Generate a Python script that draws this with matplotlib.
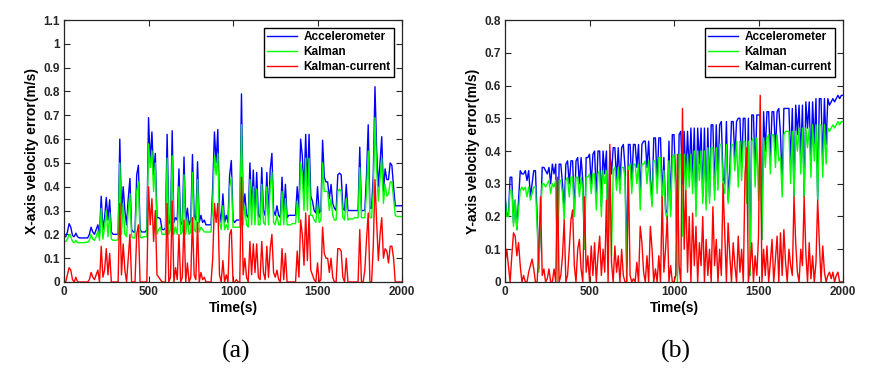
import numpy as np
import matplotlib
matplotlib.use("Agg")
import matplotlib.pyplot as plt
from matplotlib.ticker import FormatStrFormatter

plt.rcParams['font.family'] = ['Liberation Sans', 'DejaVu Sans']

# samples every 10 s, 0..2000 s
# (a) X-axis velocity error
acc_a = [0.19, 0.19, 0.21, 0.245, 0.23, 0.195, 0.19, 0.205, 0.19, 0.185,
         0.185, 0.185, 0.185, 0.185, 0.185, 0.2, 0.23, 0.21, 0.2, 0.22,
         0.24, 0.2, 0.36, 0.22, 0.27, 0.355, 0.26, 0.345, 0.21, 0.2,
         0.2, 0.2, 0.2, 0.6, 0.28, 0.4, 0.3, 0.24, 0.35, 0.435,
         0.22, 0.21, 0.21, 0.45, 0.49, 0.22, 0.21, 0.21, 0.21, 0.22,
         0.69, 0.5, 0.63, 0.45, 0.54, 0.27, 0.27, 0.265, 0.22, 0.22,
         0.225, 0.62, 0.26, 0.24, 0.635, 0.25, 0.27, 0.26, 0.475, 0.24,
         0.25, 0.525, 0.25, 0.31, 0.24, 0.26, 0.535, 0.28, 0.26, 0.505,
         0.25, 0.28, 0.25, 0.26, 0.24, 0.24, 0.24, 0.24, 0.4, 0.63,
         0.5, 0.64, 0.3, 0.25, 0.37, 0.25, 0.28, 0.25, 0.45, 0.51,
         0.26, 0.25, 0.26, 0.26, 0.26, 0.79, 0.3, 0.37, 0.28, 0.27,
         0.5, 0.3, 0.47, 0.28, 0.46, 0.28, 0.27, 0.48, 0.3, 0.28,
         0.46, 0.28, 0.47, 0.54, 0.3, 0.28, 0.32, 0.28, 0.27, 0.44,
         0.28, 0.41, 0.27, 0.28, 0.28, 0.28, 0.28, 0.28, 0.4, 0.3,
         0.6, 0.53, 0.38, 0.62, 0.4, 0.62, 0.36, 0.34, 0.3, 0.29,
         0.4, 0.29, 0.3, 0.595, 0.44, 0.42, 0.42, 0.35, 0.41, 0.33,
         0.31, 0.3, 0.45, 0.457, 0.45, 0.31, 0.3, 0.41, 0.3, 0.3,
         0.3, 0.3, 0.3, 0.3, 0.3, 0.566, 0.3, 0.3, 0.3, 0.45,
         0.66, 0.31, 0.31, 0.45, 0.82, 0.55, 0.4, 0.5, 0.61, 0.38,
         0.475, 0.43, 0.43, 0.5, 0.49, 0.4, 0.32, 0.32, 0.32, 0.32,
         0.32]
kal_a = [0.17, 0.17, 0.18, 0.2, 0.19, 0.17, 0.165, 0.175, 0.165, 0.165,
         0.165, 0.165, 0.165, 0.167, 0.167, 0.175, 0.2, 0.18, 0.175, 0.19,
         0.215, 0.175, 0.31, 0.18, 0.23, 0.3, 0.19, 0.29, 0.18, 0.175,
         0.175, 0.175, 0.178, 0.5, 0.2, 0.33, 0.2, 0.19, 0.3, 0.37,
         0.19, 0.185, 0.185, 0.38, 0.42, 0.19, 0.185, 0.19, 0.19, 0.19,
         0.58, 0.48, 0.55, 0.38, 0.5, 0.2, 0.22, 0.23, 0.2, 0.2,
         0.2, 0.52, 0.2, 0.22, 0.53, 0.2, 0.23, 0.2, 0.4, 0.2,
         0.21, 0.45, 0.2, 0.27, 0.2, 0.21, 0.46, 0.22, 0.21, 0.43,
         0.21, 0.23, 0.22, 0.21, 0.21, 0.21, 0.21, 0.21, 0.34, 0.53,
         0.45, 0.54, 0.25, 0.22, 0.32, 0.22, 0.24, 0.22, 0.4, 0.44,
         0.23, 0.23, 0.23, 0.23, 0.23, 0.66, 0.24, 0.32, 0.24, 0.23,
         0.43, 0.24, 0.4, 0.24, 0.39, 0.24, 0.24, 0.41, 0.25, 0.24,
         0.4, 0.24, 0.4, 0.46, 0.25, 0.24, 0.28, 0.24, 0.24, 0.38,
         0.24, 0.35, 0.24, 0.24, 0.24, 0.245, 0.245, 0.245, 0.34, 0.25,
         0.5, 0.45, 0.3, 0.52, 0.3, 0.52, 0.28, 0.28, 0.26, 0.25,
         0.33, 0.25, 0.26, 0.5, 0.38, 0.38, 0.38, 0.3, 0.35, 0.28,
         0.26, 0.26, 0.38, 0.39, 0.38, 0.27, 0.26, 0.35, 0.26, 0.265,
         0.265, 0.265, 0.27, 0.27, 0.27, 0.48, 0.27, 0.27, 0.27, 0.38,
         0.55, 0.27, 0.27, 0.38, 0.69, 0.47, 0.34, 0.43, 0.52, 0.33,
         0.41, 0.36, 0.37, 0.42, 0.42, 0.35, 0.28, 0.275, 0.275, 0.275,
         0.275]
cur_a = [0.0, 0.0, 0.03, 0.06, 0.05, 0.01, 0.0, 0.02, 0.0, 0.0,
         0.0, 0.0, 0.0, 0.0, 0.0, 0.01, 0.04, 0.02, 0.01, 0.03,
         0.05, 0.0, 0.15, 0.02, 0.05, 0.14, 0.03, 0.12, 0.0, 0.0,
         0.0, 0.0, 0.0, 0.33, 0.03, 0.16, 0.05, 0.0, 0.1, 0.2,
         0.0, 0.0, 0.0, 0.2, 0.24, 0.0, 0.0, 0.0, 0.0, 0.0,
         0.4, 0.24, 0.35, 0.17, 0.3, 0.03, 0.02, 0.01, 0.0, 0.0,
         0.0, 0.33, 0.0, 0.02, 0.34, 0.0, 0.06, 0.01, 0.2, 0.0,
         0.02, 0.26, 0.0, 0.08, 0.0, 0.02, 0.27, 0.03, 0.01, 0.25,
         0.0, 0.04, 0.01, 0.02, 0.0, 0.0, 0.0, 0.0, 0.1, 0.33,
         0.25, 0.33, 0.03, 0.0, 0.09, 0.0, 0.03, 0.0, 0.2, 0.22,
         0.0, 0.0, 0.01, 0.0, 0.0, 0.44, 0.03, 0.1, 0.02, 0.0,
         0.17, 0.03, 0.16, 0.04, 0.16, 0.02, 0.01, 0.17, 0.04, 0.01,
         0.15, 0.02, 0.14, 0.2, 0.04, 0.02, 0.05, 0.01, 0.0, 0.14,
         0.01, 0.12, 0.0, 0.0, 0.0, 0.0, 0.0, 0.0, 0.13, 0.02,
         0.26, 0.2, 0.07, 0.29, 0.09, 0.28, 0.05, 0.03, 0.01, 0.0,
         0.08, 0.0, 0.01, 0.23, 0.12, 0.1, 0.1, 0.04, 0.1, 0.02,
         0.0, 0.0, 0.14, 0.14, 0.13, 0.02, 0.0, 0.1, 0.0, 0.0,
         0.0, 0.0, 0.0, 0.0, 0.0, 0.22, 0.0, 0.0, 0.05, 0.18,
         0.29, 0.0, 0.0, 0.15, 0.43, 0.25, 0.09, 0.2, 0.27, 0.1,
         0.14, 0.13, 0.08, 0.15, 0.15, 0.1, 0.0, 0.0, 0.0, 0.0,
         0.0]

# (b) Y-axis velocity error
acc_b = [0.26, 0.21, 0.20, 0.32, 0.32, 0.18, 0.25, 0.16, 0.25, 0.34,
         0.33, 0.33, 0.34, 0.31, 0.34, 0.26, 0.30, 0.34, 0.34, 0.20,
         0.04, 0.20, 0.35, 0.35, 0.34, 0.33, 0.35, 0.30, 0.36, 0.33,
         0.36, 0.03, 0.36, 0.36, 0.30, 0.22, 0.36, 0.37, 0.30, 0.37,
         0.37, 0.21, 0.37, 0.38, 0.30, 0.38, 0.31, 0.10, 0.38, 0.38,
         0.39, 0.30, 0.39, 0.40, 0.26, 0.40, 0.40, 0.23, 0.40, 0.33,
         0.40, 0.10, 0.40, 0.33, 0.41, 0.41, 0.31, 0.41, 0.30, 0.41,
         0.42, 0.35, 0.05, 0.42, 0.42, 0.30, 0.42, 0.42, 0.35, 0.42,
         0.26, 0.42, 0.43, 0.43, 0.35, 0.43, 0.32, 0.24, 0.44, 0.44,
         0.30, 0.44, 0.44, 0.26, 0.38, 0.22, 0.21, 0.43, 0.22, 0.45,
         0.45, 0.30, 0.02, 0.45, 0.46, 0.30, 0.46, 0.32, 0.46, 0.33,
         0.47, 0.31, 0.47, 0.22, 0.47, 0.36, 0.47, 0.26, 0.47, 0.24,
         0.47, 0.26, 0.48, 0.48, 0.28, 0.48, 0.32, 0.48, 0.49, 0.32,
         0.30, 0.49, 0.25, 0.34, 0.49, 0.49, 0.38, 0.49, 0.50, 0.50,
         0.35, 0.50, 0.50, 0.26, 0.50, 0.02, 0.51, 0.51, 0.33, 0.51,
         0.51, 0.51, 0.13, 0.52, 0.40, 0.52, 0.52, 0.38, 0.52, 0.52,
         0.40, 0.52, 0.53, 0.45, 0.30, 0.53, 0.53, 0.53, 0.53, 0.36,
         0.53, 0.26, 0.54, 0.45, 0.54, 0.38, 0.54, 0.26, 0.55, 0.47,
         0.55, 0.36, 0.55, 0.42, 0.56, 0.25, 0.56, 0.56, 0.36, 0.56,
         0.42, 0.56, 0.54, 0.55, 0.56, 0.55, 0.56, 0.57, 0.56, 0.57,
         0.57]
kal_b = [0.26, 0.20, 0.20, 0.28, 0.28, 0.17, 0.25, 0.16, 0.22, 0.28,
         0.29, 0.28, 0.29, 0.26, 0.29, 0.25, 0.27, 0.29, 0.29, 0.17,
         0.03, 0.20, 0.30, 0.30, 0.29, 0.30, 0.31, 0.27, 0.30, 0.29,
         0.31, 0.00, 0.31, 0.31, 0.27, 0.19, 0.31, 0.32, 0.26, 0.32,
         0.32, 0.20, 0.32, 0.32, 0.26, 0.32, 0.28, 0.10, 0.32, 0.32,
         0.33, 0.27, 0.33, 0.33, 0.22, 0.33, 0.34, 0.20, 0.34, 0.30,
         0.34, 0.10, 0.34, 0.08, 0.34, 0.35, 0.28, 0.35, 0.27, 0.35,
         0.35, 0.32, 0.00, 0.35, 0.36, 0.27, 0.36, 0.36, 0.30, 0.36,
         0.22, 0.36, 0.36, 0.37, 0.30, 0.37, 0.29, 0.23, 0.37, 0.37,
         0.27, 0.38, 0.38, 0.24, 0.34, 0.21, 0.19, 0.37, 0.20, 0.38,
         0.39, 0.27, 0.00, 0.39, 0.39, 0.14, 0.39, 0.28, 0.39, 0.29,
         0.39, 0.27, 0.40, 0.20, 0.40, 0.31, 0.40, 0.24, 0.40, 0.22,
         0.41, 0.24, 0.41, 0.41, 0.25, 0.41, 0.28, 0.42, 0.42, 0.29,
         0.27, 0.42, 0.24, 0.30, 0.42, 0.42, 0.34, 0.43, 0.29, 0.43,
         0.31, 0.43, 0.43, 0.24, 0.43, 0.02, 0.43, 0.44, 0.29, 0.44,
         0.25, 0.44, 0.13, 0.44, 0.35, 0.44, 0.45, 0.33, 0.45, 0.45,
         0.35, 0.45, 0.37, 0.38, 0.26, 0.45, 0.46, 0.46, 0.46, 0.30,
         0.46, 0.26, 0.46, 0.40, 0.47, 0.33, 0.47, 0.26, 0.47, 0.41,
         0.47, 0.32, 0.48, 0.37, 0.48, 0.25, 0.48, 0.48, 0.32, 0.48,
         0.36, 0.47, 0.46, 0.47, 0.48, 0.47, 0.48, 0.49, 0.48, 0.49,
         0.49]
cur_b = [0.06, 0.10, 0.05, 0.00, 0.08, 0.15, 0.14, 0.08, 0.12, 0.05,
         0.00, 0.02, 0.00, 0.00, 0.03, 0.05, 0.07, 0.04, 0.00, 0.00,
         0.10, 0.26, 0.02, 0.04, 0.00, 0.01, 0.04, 0.00, 0.00, 0.04,
         0.00, 0.32, 0.00, 0.02, 0.08, 0.19, 0.00, 0.02, 0.10, 0.19,
         0.22, 0.05, 0.00, 0.10, 0.13, 0.04, 0.00, 0.26, 0.03, 0.08,
         0.00, 0.11, 0.02, 0.12, 0.00, 0.08, 0.14, 0.02, 0.10, 0.03,
         0.25, 0.00, 0.42, 0.06, 0.00, 0.11, 0.03, 0.08, 0.00, 0.10,
         0.02, 0.00, 0.00, 0.34, 0.02, 0.00, 0.01, 0.00, 0.06, 0.00,
         0.17, 0.12, 0.03, 0.00, 0.08, 0.00, 0.17, 0.10, 0.00, 0.04,
         0.00, 0.08, 0.00, 0.26, 0.03, 0.10, 0.20, 0.00, 0.05, 0.00,
         0.00, 0.02, 0.39, 0.05, 0.00, 0.53, 0.10, 0.28, 0.03, 0.20,
         0.00, 0.21, 0.05, 0.17, 0.00, 0.12, 0.05, 0.20, 0.00, 0.13,
         0.02, 0.10, 0.00, 0.23, 0.05, 0.13, 0.00, 0.10, 0.02, 0.30,
         0.15, 0.00, 0.18, 0.08, 0.00, 0.12, 0.05, 0.00, 0.14, 0.03,
         0.10, 0.00, 0.33, 0.41, 0.00, 0.05, 0.12, 0.00, 0.08, 0.02,
         0.14, 0.57, 0.00, 0.10, 0.02, 0.11, 0.00, 0.06, 0.13, 0.00,
         0.07, 0.14, 0.00, 0.15, 0.02, 0.16, 0.06, 0.00, 0.10, 0.05,
         0.02, 0.26, 0.12, 0.03, 0.00, 0.10, 0.05, 0.26, 0.09, 0.00,
         0.12, 0.01, 0.08, 0.00, 0.06, 0.25, 0.12, 0.00, 0.11, 0.03,
         0.00, 0.02, 0.03, 0.01, 0.03, 0.00, 0.02, 0.03, 0.00, 0.00,
         0.00]

labels = ["Accelerometer", "Kalman", "Kalman-current"]
colors = ["#0000ff", "#00ff00", "#ff0000"]

fig = plt.figure(figsize=(8.82, 3.74), dpi=100)


def draw(rect, series, ymax, ylabel, tag, tag_x):
    ax = fig.add_axes(rect)
    for s, lab, c in zip(series, labels, colors):
        t = np.linspace(0, 2000, len(s))
        ax.plot(t, s, color=c, lw=1.0, label=lab)
    ax.set_xlim(0, 2000)
    ax.set_ylim(0, ymax)
    ax.set_xticks([0, 500, 1000, 1500, 2000])
    ax.set_yticks(np.arange(0, ymax + 0.001, 0.1))
    ax.yaxis.set_major_formatter(FormatStrFormatter('%g'))
    ax.tick_params(direction='in', top=True, right=True, length=4,
                   width=0.8, labelsize=8.5, pad=3, colors='#262626')
    for lbl in ax.get_xticklabels() + ax.get_yticklabels():
        lbl.set_fontweight('bold')
        lbl.set_color('#262626')
    for sp in ax.spines.values():
        sp.set_color('#262626')
        sp.set_linewidth(0.9)
    ax.set_xlabel("Time(s)", fontsize=10, fontweight='bold', labelpad=2)
    ax.set_ylabel(ylabel, fontsize=10, fontweight='bold', labelpad=3)
    leg = ax.legend(loc='upper right', fontsize=8.5, handlelength=2.5,
                    labelspacing=0.25, borderaxespad=0.65, fancybox=False,
                    framealpha=1, edgecolor='black', borderpad=0.3,
                    handletextpad=0.6)
    leg.get_frame().set_linewidth(1.0)
    for txt in leg.get_texts():
        txt.set_fontweight('bold')
    fig.text(tag_x, 0.059, tag, ha='center', va='center', fontsize=18.5,
             family='Liberation Serif')
    return ax


draw([0.0726, 0.246, 0.3832, 0.7005], [acc_a, kal_a, cur_a], 1.1,
     "X-axis velocity error(m/s)", "(a)", 0.2676)
draw([0.5726, 0.246, 0.3832, 0.7005], [acc_b, kal_b, cur_b], 0.8,
     "Y-axis velocity error(m/s)", "(b)", 0.766)

fig.savefig("out.png", dpi=100)
